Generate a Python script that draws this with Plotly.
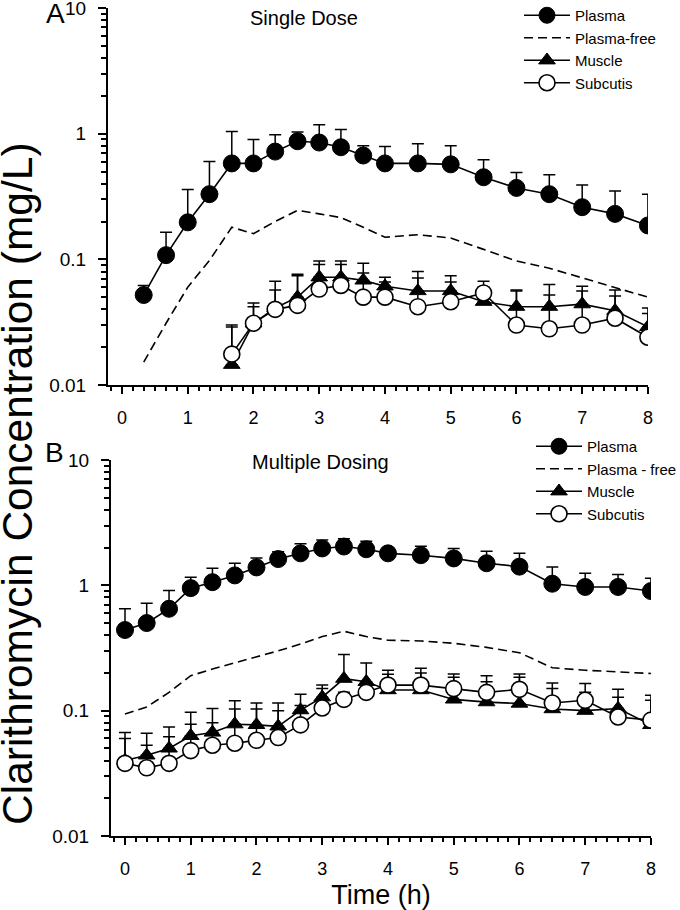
import plotly.graph_objects as go

# ---------------- data ----------------
tA = [0.33, 0.67, 1.0, 1.33, 1.67, 2.0, 2.33, 2.67, 3.0, 3.33, 3.67, 4.0, 4.5, 5.0, 5.5, 6.0, 6.5, 7.0, 7.5, 8.0]
plasmaA = [0.052, 0.108, 0.197, 0.33, 0.58, 0.58, 0.72, 0.87, 0.85, 0.78, 0.67, 0.58, 0.58, 0.57, 0.45, 0.37, 0.33, 0.26, 0.23, 0.186]
plasmaA_up = [0.062, 0.164, 0.36, 0.60, 1.04, 0.90, 0.98, 1.03, 1.18, 1.08, 0.80, 0.79, 0.83, 0.80, 0.62, 0.49, 0.47, 0.39, 0.35, 0.33]
freeA = [0.0152, 0.031, 0.060, 0.098, 0.18, 0.16, 0.20, 0.245, 0.23, 0.215, 0.18, 0.15, 0.157, 0.148, 0.12, 0.097, 0.085, 0.071, 0.06, 0.05]

tA_tis = [1.67, 2.0, 2.33, 2.67, 3.0, 3.33, 3.67, 4.0, 4.5, 5.0, 5.5, 6.0, 6.5, 7.0, 7.5, 8.0]
muscleA = [0.0145, 0.031, 0.041, 0.05, 0.072, 0.072, 0.068, 0.061, 0.056, 0.056, 0.046, 0.042, 0.042, 0.044, 0.039, 0.029]
muscleA_up = [0.029, 0.042, 0.057, 0.076, 0.097, 0.097, 0.093, 0.072, 0.08, 0.074, 0.06, 0.057, 0.063, 0.061, 0.057, 0.041]
subcA = [0.0176, 0.031, 0.040, 0.043, 0.058, 0.062, 0.05, 0.05, 0.042, 0.046, 0.054, 0.030, 0.028, 0.030, 0.034, 0.024]
subcA_up = [0.030, 0.045, 0.067, 0.074, 0.091, 0.091, 0.078, 0.066, 0.071, 0.066, 0.067, 0.056, 0.052, 0.056, 0.051, 0.037]

tB = [0, 0.33, 0.67, 1.0, 1.33, 1.67, 2.0, 2.33, 2.67, 3.0, 3.33, 3.67, 4.0, 4.5, 5.0, 5.5, 6.0, 6.5, 7.0, 7.5, 8.0]
plasmaB = [0.44, 0.50, 0.65, 0.95, 1.06, 1.2, 1.39, 1.62, 1.8, 1.97, 2.04, 1.94, 1.80, 1.74, 1.64, 1.50, 1.41, 1.03, 0.97, 0.97, 0.90]
plasmaB_up = [0.65, 0.72, 0.91, 1.16, 1.37, 1.5, 1.65, 1.85, 2.15, 2.3, 2.35, 2.25, 1.95, 2.05, 1.97, 1.87, 1.8, 1.4, 1.25, 1.22, 1.14]
freeB = [0.094, 0.107, 0.14, 0.19, 0.215, 0.24, 0.27, 0.30, 0.34, 0.39, 0.43, 0.39, 0.365, 0.36, 0.345, 0.32, 0.29, 0.22, 0.21, 0.203, 0.198]
muscleB = [0.04, 0.044, 0.05, 0.063, 0.067, 0.078, 0.077, 0.075, 0.101, 0.128, 0.18, 0.17, 0.146, 0.146, 0.123, 0.117, 0.114, 0.103, 0.1, 0.104, 0.077]
muscleB_up = [0.06, 0.066, 0.074, 0.097, 0.104, 0.12, 0.115, 0.115, 0.135, 0.16, 0.28, 0.24, 0.195, 0.2, 0.185, 0.17, 0.185, 0.15, 0.14, 0.148, 0.133]
subcB = [0.038, 0.035, 0.038, 0.048, 0.053, 0.055, 0.058, 0.061, 0.077, 0.105, 0.123, 0.14, 0.16, 0.16, 0.15, 0.14, 0.148, 0.115, 0.121, 0.089, 0.084]
subcB_up = [0.067, 0.053, 0.062, 0.078, 0.08, 0.103, 0.103, 0.1, 0.11, 0.15, 0.14, 0.165, 0.21, 0.218, 0.196, 0.19, 0.196, 0.166, 0.165, 0.128, 0.121]

names_A = ["Plasma", "Plasma-free", "Muscle", "Subcutis"]
names_B = ["Plasma", "Plasma - free", "Muscle", "Subcutis"]
x_ticks = [0, 1, 2, 3, 4, 5, 6, 7, 8]
y_ticks = [0.01, 0.1, 1, 10]
y_ticktext = ["0.01", "0.1", "1", "10"]

# ---------------- style ----------------
FONT = "Liberation Sans, Arial, sans-serif"
LW = 1.6


def up_err(vals, ups):
    return [u - v for v, u in zip(vals, ups)]


def err(vals, ups):
    return dict(type="data", symmetric=False, array=up_err(vals, ups),
                arrayminus=[0] * len(vals), color="black", thickness=1.5, width=6)


fig = go.Figure()


def add_panel(t, plasma, plasma_up, free, t_tis, muscle, muscle_up, subc, subc_up,
              names, xa, ya, leg):
    fig.add_trace(go.Scatter(x=t, y=plasma, mode="lines+markers", name=names[0],
                             xaxis=xa, yaxis=ya, legend=leg,
                             line=dict(color="black", width=LW),
                             marker=dict(symbol="circle", size=17, color="black",
                                         line=dict(color="black", width=1)),
                             error_y=err(plasma, plasma_up)))
    fig.add_trace(go.Scatter(x=t, y=free, mode="lines", name=names[1],
                             xaxis=xa, yaxis=ya, legend=leg,
                             line=dict(color="black", width=1.6, dash="9px,5px")))
    fig.add_trace(go.Scatter(x=t_tis, y=muscle, mode="lines+markers", name=names[2],
                             xaxis=xa, yaxis=ya, legend=leg,
                             line=dict(color="black", width=LW),
                             marker=dict(symbol="triangle-up", size=14.5, color="black",
                                         line=dict(color="black", width=1)),
                             error_y=err(muscle, muscle_up)))
    fig.add_trace(go.Scatter(x=t_tis, y=subc, mode="lines+markers", name=names[3],
                             xaxis=xa, yaxis=ya, legend=leg,
                             line=dict(color="black", width=LW),
                             marker=dict(symbol="circle", size=16, color="white",
                                         line=dict(color="black", width=1.6)),
                             error_y=err(subc, subc_up)))


add_panel(tA, plasmaA, plasmaA_up, freeA, tA_tis, muscleA, muscleA_up, subcA, subcA_up,
          names_A, "x", "y", "legend")
add_panel(tB, plasmaB, plasmaB_up, freeB, tB, muscleB, muscleB_up, subcB, subcB_up,
          names_B, "x2", "y2", "legend2")

W, H = 680, 910


def px_x(p):
    return p / W


def px_y(p):
    return 1 - p / H


xaxis_common = dict(range=[-0.213, 8.001], tickvals=x_ticks, ticks="outside", ticklen=7,
                    tickwidth=2, tickcolor="black", showline=True, linecolor="black",
                    linewidth=2, showgrid=False, zeroline=False,
                    tickfont=dict(family=FONT, size=18, color="black"),
                    ticklabelstandoff=8, ticklabeloverflow="allow",
                    minor=dict(dtick=1 / 6, tick0=0, ticks="outside", ticklen=4,
                               tickwidth=1.5, tickcolor="black", showgrid=False))
yaxis_common = dict(type="log", range=[-2, 1], tickvals=y_ticks, ticktext=y_ticktext,
                    ticks="outside", ticklen=8, tickwidth=2, tickcolor="black",
                    showline=True, linecolor="black", linewidth=2, showgrid=False,
                    zeroline=False, tickfont=dict(family=FONT, size=19, color="black"),
                    ticklabelstandoff=8, ticklabeloverflow="allow",
                    minor=dict(dtick="D1", ticks="outside", ticklen=5, tickwidth=1.5,
                               tickcolor="black", showgrid=False))

legend_common = dict(font=dict(family=FONT, size=15, color="black"),
                     bgcolor="rgba(0,0,0,0)", borderwidth=0, xanchor="left",
                     yanchor="top", tracegroupgap=0, itemsizing="trace", itemwidth=46)

fig.update_layout(
    width=W, height=H,
    margin=dict(l=0, r=0, t=0, b=0, autoexpand=False),
    paper_bgcolor="white", plot_bgcolor="white",
    font=dict(family=FONT, color="black"),
    xaxis=dict(domain=[px_x(108), px_x(648)], anchor="y", **xaxis_common),
    yaxis=dict(domain=[px_y(385), px_y(8)], anchor="x", **yaxis_common),
    xaxis2=dict(domain=[px_x(111), px_x(651)], anchor="y2",
                title=dict(text="Time (h)", font=dict(family=FONT, size=27, color="black"),
                           standoff=8),
                **xaxis_common),
    yaxis2=dict(domain=[px_y(836), px_y(460)], anchor="x2", **yaxis_common),
    legend=dict(x=px_x(519), y=px_y(-1), **legend_common),
    legend2=dict(x=px_x(531), y=px_y(430), **legend_common),
    showlegend=True,
    annotations=[
        dict(text="Clarithromycin Concentration (mg/L)", x=px_x(17), y=px_y(484),
             xref="paper", yref="paper", showarrow=False, textangle=-90,
             xanchor="center", yanchor="middle",
             font=dict(family=FONT, size=42.5, color="black")),
        dict(text="A", x=px_x(55), y=px_y(14), xref="paper", yref="paper", showarrow=False,
             xanchor="center", yanchor="middle", font=dict(family=FONT, size=28, color="black")),
        dict(text="B", x=px_x(54), y=px_y(452), xref="paper", yref="paper", showarrow=False,
             xanchor="center", yanchor="middle", font=dict(family=FONT, size=28, color="black")),
        dict(text="Single Dose", x=px_x(304), y=px_y(18), xref="paper", yref="paper",
             showarrow=False, xanchor="center", yanchor="middle",
             font=dict(family=FONT, size=20, color="black")),
        dict(text="Multiple Dosing", x=px_x(320), y=px_y(462), xref="paper", yref="paper",
             showarrow=False, xanchor="center", yanchor="middle",
             font=dict(family=FONT, size=20, color="black")),
    ],
)

fig.write_html("out.html", config={"displayModeBar": False},
               post_script="document.body.style.margin='0px';document.body.style.padding='0px';")
